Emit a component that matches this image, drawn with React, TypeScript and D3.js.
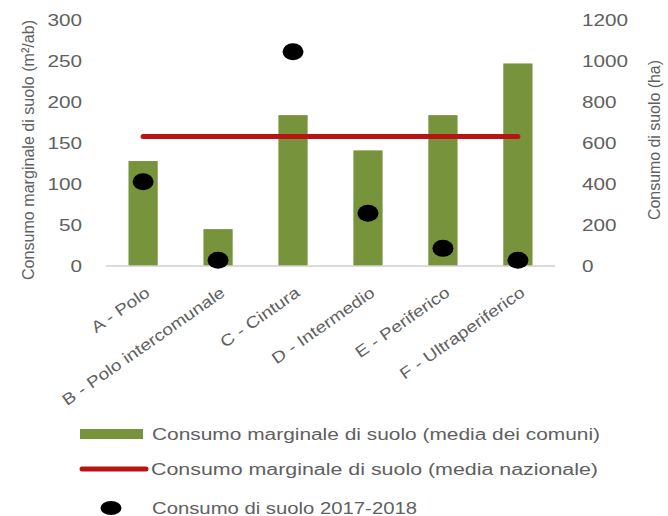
import React from "react";
import * as d3 from "d3";

const categories = ["A - Polo", "B - Polo intercomunale", "C - Cintura", "D - Intermedio", "E - Periferico", "F - Ultraperiferico"];
const mediaComuni = [128, 45, 184, 141, 184, 247];
const mediaNazionale = 158;
const consumo2017_2018 = [411, 28, 1045, 257, 86, 28];
const leftTicks = [0, 50, 100, 150, 200, 250, 300];
const rightTicks = [0, 200, 400, 600, 800, 1000, 1200];
const legendLabels = [
  "Consumo marginale di suolo (media dei comuni)",
  "Consumo marginale di suolo (media nazionale)",
  "Consumo di suolo 2017-2018",
];
const leftTitle = "Consumo marginale di suolo (m²/ab)";
const rightTitle = "Consumo di suolo (ha)";

const W = 668;
const H = 516;
const GREEN = "#77933c";
const RED = "#b81414";
const TXT = "#606060";
const FONT = "'Liberation Sans', Arial, sans-serif";

export default function App() {
  const x = d3.scaleBand<string>().domain(categories).range([106, 555]).paddingInner(0.61).paddingOuter(0.3);
  const yL = d3.scaleLinear().domain([0, 300]).range([266, 20]);
  const yR = d3.scaleLinear().domain([0, 1200]).range([266, 20]);
  const cx = (c: string) => (x(c) as number) + x.bandwidth() / 2;

  const redLine = d3.line<number>()
    .x((_, i) => cx(categories[i === 0 ? 0 : categories.length - 1]))
    .y((v) => yL(v));

  return (
    <svg width={W} height={H} style={{ position: "absolute", left: 0, top: 0, background: "#fff" }} fontFamily={FONT}>
      {/* bars */}
      {categories.map((c, i) => (
        <rect key={c} x={x(c)} y={yL(mediaComuni[i])} width={x.bandwidth()} height={yL(0) - yL(mediaComuni[i])} fill={GREEN} />
      ))}
      {/* axis line */}
      <line x1={106} x2={555} y1={yL(0)} y2={yL(0)} stroke="#d0d0d0" strokeWidth={1.5} />
      {/* national average */}
      <path d={redLine([mediaNazionale, mediaNazionale]) as string} stroke={RED} strokeWidth={5} strokeLinecap="round" fill="none" />
      {/* dots */}
      {categories.map((c, i) => (
        <ellipse key={c} cx={cx(c)} cy={yR(consumo2017_2018[i])} rx={10.5} ry={8.5} fill="#000" />
      ))}
      {/* left ticks */}
      {leftTicks.map((t) => (
        <text key={t} transform={`translate(82,${yL(t)}) scale(1.22,1)`} textAnchor="end" dominantBaseline="central" fontSize={17} fill={TXT}>{t}</text>
      ))}
      {/* right ticks */}
      {rightTicks.map((t) => (
        <text key={t} transform={`translate(582,${yR(t)}) scale(1.22,1)`} textAnchor="start" dominantBaseline="central" fontSize={17} fill={TXT}>{t}</text>
      ))}
      {/* titles */}
      <text transform="translate(28,150) rotate(-90)" textAnchor="middle" dominantBaseline="central" fontSize={17} fill={TXT} textLength={260} lengthAdjust="spacingAndGlyphs">{leftTitle}</text>
      <text transform="translate(654,140) rotate(-90)" textAnchor="middle" dominantBaseline="central" fontSize={16} fill={TXT} textLength={160} lengthAdjust="spacingAndGlyphs">{rightTitle}</text>
      {/* x labels */}
      {categories.map((c) => (
        <text key={c} transform={`translate(${cx(c) + 8},295) rotate(-35) scale(1.2,1)`} textAnchor="end" fontSize={16} fill={TXT}>{c}</text>
      ))}
      {/* legend */}
      <rect x={80} y={429} width={63} height={10} fill={GREEN} />
      <text x={152} y={434} dominantBaseline="central" fontSize={16} fill={TXT} textLength={448} lengthAdjust="spacingAndGlyphs">{legendLabels[0]}</text>
      <line x1={82} x2={146} y1={469} y2={469} stroke={RED} strokeWidth={5} strokeLinecap="round" />
      <text x={151} y={469} dominantBaseline="central" fontSize={16} fill={TXT} textLength={447} lengthAdjust="spacingAndGlyphs">{legendLabels[1]}</text>
      <ellipse cx={111} cy={508} rx={10.5} ry={7} fill="#000" />
      <text x={152} y={508} dominantBaseline="central" fontSize={16} fill={TXT} textLength={265} lengthAdjust="spacingAndGlyphs">{legendLabels[2]}</text>
    </svg>
  );
}
